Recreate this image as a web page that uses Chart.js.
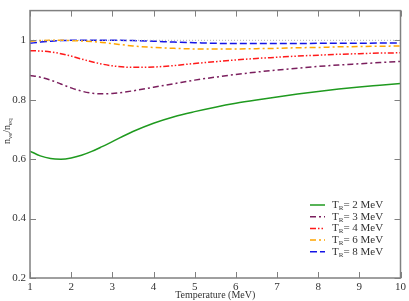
<!DOCTYPE html>
<html>
<head>
<meta charset="utf-8">
<script src="https://cdn.jsdelivr.net/npm/chart.js@4/dist/chart.umd.min.js"></script>
<style>
  html, body { margin: 0; padding: 0; background: #fff; }
  #wrap { width: 409px; height: 301px; }
</style>
</head>
<body>
<div id="wrap"><canvas id="grafico"></canvas></div>
<script>
// temperatura (MeV)
var temperaturas = [1, 1.25, 1.5, 1.75, 2, 2.25, 2.5, 2.75, 3, 3.5, 4, 4.5, 5, 5.5, 6, 6.5, 7, 7.5, 8, 8.5, 9, 9.5, 10];

var serieTR2 = [0.627, 0.611, 0.602, 0.600, 0.604, 0.613, 0.626, 0.642, 0.659, 0.693, 0.721, 0.743, 0.760, 0.775, 0.788, 0.799, 0.809, 0.819, 0.828, 0.836, 0.843, 0.849, 0.855];
var serieTR3 = [0.882, 0.876, 0.866, 0.853, 0.840, 0.829, 0.822, 0.820, 0.821, 0.830, 0.842, 0.854, 0.866, 0.876, 0.885, 0.893, 0.900, 0.906, 0.912, 0.917, 0.921, 0.925, 0.929];
var serieTR4 = [0.965, 0.964, 0.961, 0.955, 0.947, 0.937, 0.928, 0.920, 0.914, 0.909, 0.910, 0.915, 0.922, 0.928, 0.934, 0.939, 0.943, 0.947, 0.950, 0.953, 0.955, 0.957, 0.958];
var serieTR6 = [0.997, 0.999, 1.000, 1.000, 0.999, 0.998, 0.996, 0.993, 0.989, 0.981, 0.976, 0.973, 0.971, 0.971, 0.971, 0.972, 0.973, 0.975, 0.976, 0.978, 0.979, 0.980, 0.981];
var serieTR8 = [0.990, 0.994, 0.997, 0.999, 1.000, 1.000, 1.000, 1.000, 1.000, 0.999, 0.997, 0.994, 0.992, 0.990, 0.989, 0.989, 0.989, 0.989, 0.990, 0.990, 0.990, 0.991, 0.991];
var linhaEquilibrio = [1, 1];
var xEquilibrio = [1, 10];

var valoresTR = ['2', '3', '4', '6', '8'];
var ticksX = [1, 2, 3, 4, 5, 6, 7, 8, 9, 10];
var ticksY = [0.2, 0.4, 0.6, 0.8, 1];

var fonteSerif = '"Liberation Serif", "DejaVu Serif", serif';

function pontos(xs, ys) {
    return ys.map(function(y, i) { return { x: xs[i], y: y }; });
}

var estilos = [
    { cor: '#1f9a1f', dash: [] },
    { cor: '#7b1f5e', dash: [6, 3, 2, 3] },
    { cor: '#ff1a1a', dash: [6, 2, 1.5, 2, 1.5, 2] },
    { cor: '#ffa500', dash: [6, 3, 2, 3] },
    { cor: '#1414e6', dash: [7, 3] }
];
var series = [serieTR2, serieTR3, serieTR4, serieTR6, serieTR8];

var datasets = [{
    label: 'eq',
    data: pontos(xEquilibrio, linhaEquilibrio),
    borderColor: '#b0b0b0',
    borderWidth: 1,
    borderDash: [1, 2],
    pointRadius: 0
}];
series.forEach(function(s, i) {
    datasets.push({
        label: 'T_R= ' + valoresTR[i] + ' MeV',
        data: pontos(temperaturas, s),
        borderColor: estilos[i].cor,
        borderDash: estilos[i].dash,
        borderWidth: 1.5,
        pointRadius: 0,
        cubicInterpolationMode: 'monotone'
    });
});

// moldura, ticks internos, titulos e legenda
var moldura = {
    id: 'moldura',
    afterDraw: function(chart) {
        var ctx = chart.ctx;
        var a = chart.chartArea;
        var sx = chart.scales.x, sy = chart.scales.y;
        ctx.save();
        ctx.strokeStyle = '#808080';
        ctx.lineWidth = 1.5;
        ctx.strokeRect(a.left, a.top, a.right - a.left, a.bottom - a.top);
        ctx.lineWidth = 1;
        ctx.beginPath();
        ticksX.forEach(function(t) {
            var px = Math.round(sx.getPixelForValue(t)) + 0.5;
            ctx.moveTo(px, a.bottom); ctx.lineTo(px, a.bottom - 6);
            ctx.moveTo(px, a.top); ctx.lineTo(px, a.top + 6);
        });
        ticksY.forEach(function(t) {
            var py = Math.round(sy.getPixelForValue(t)) + 0.5;
            ctx.moveTo(a.left, py); ctx.lineTo(a.left + 6, py);
            ctx.moveTo(a.right, py); ctx.lineTo(a.right - 6, py);
        });
        ctx.stroke();

        // titulo eixo x
        ctx.fillStyle = '#333';
        ctx.font = '10px ' + fonteSerif;
        ctx.textAlign = 'center';
        ctx.textBaseline = 'middle';
        ctx.fillText('Temperature (MeV)', (a.left + a.right) / 2, 295);

        // titulo eixo y (rotacionado)
        ctx.save();
        ctx.translate(7, 127);
        ctx.rotate(-Math.PI / 2);
        ctx.textAlign = 'left';
        var x0 = -17;
        ctx.font = '10px ' + fonteSerif;
        ctx.fillText('n', x0, 0); x0 += ctx.measureText('n').width;
        ctx.font = '7px ' + fonteSerif;
        ctx.fillText('\u03bde', x0, 3); x0 += ctx.measureText('\u03bde').width;
        ctx.font = '10px ' + fonteSerif;
        ctx.fillText('/n', x0, 0); x0 += ctx.measureText('/n').width;
        ctx.font = '7px ' + fonteSerif;
        ctx.fillText('eq', x0, 3);
        ctx.restore();

        // legenda
        var ly = 205;
        series.forEach(function(s, i) {
            ctx.strokeStyle = estilos[i].cor;
            ctx.lineWidth = 1.5;
            ctx.setLineDash(estilos[i].dash);
            ctx.beginPath();
            ctx.moveTo(310, ly); ctx.lineTo(325, ly);
            ctx.stroke();
            ctx.setLineDash([]);
            ctx.fillStyle = '#333';
            ctx.textAlign = 'left';
            var tx = 332;
            ctx.font = '11px ' + fonteSerif;
            ctx.fillText('T', tx, ly); tx += ctx.measureText('T').width;
            ctx.font = '7px ' + fonteSerif;
            ctx.fillText('R', tx, ly + 3); tx += ctx.measureText('R').width;
            ctx.font = '11px ' + fonteSerif;
            ctx.fillText('= ' + valoresTR[i] + ' MeV', tx, ly);
            ly += 11.7;
        });
        ctx.restore();
    }
};

var ctx = document.getElementById('grafico').getContext('2d');
window.grafico = new Chart(ctx, {
    type: 'line',
    data: { datasets: datasets },
    plugins: [moldura],
    options: {
        responsive: true,
        maintainAspectRatio: false,
        animation: false,
        layout: { padding: { top: 1, right: 6, left: 0, bottom: 0 } },
        plugins: {
            legend: { display: false },
            tooltip: { enabled: false }
        },
        scales: {
            x: {
                type: 'linear',
                min: 1,
                max: 10,
                afterFit: function(s) { s.height = 23; },
                afterBuildTicks: function(s) { s.ticks = ticksX.map(function(v) { return { value: v }; }); },
                grid: { display: false, drawTicks: false },
                border: { display: false },
                ticks: {
                    padding: 3,
                    color: '#333',
                    font: { family: fonteSerif, size: 11 },
                    maxRotation: 0
                }
            },
            y: {
                min: 0.2,
                max: 1.1,
                afterFit: function(s) { s.width = 30; },
                afterBuildTicks: function(s) { s.ticks = ticksY.map(function(v) { return { value: v }; }); },
                grid: { display: false, drawTicks: false },
                border: { display: false },
                ticks: {
                    padding: 4,
                    color: '#333',
                    font: { family: fonteSerif, size: 11 },
                    callback: function(v) { return String(Math.round(v * 10) / 10); }
                }
            }
        }
    }
});
</script>
</body>
</html>
